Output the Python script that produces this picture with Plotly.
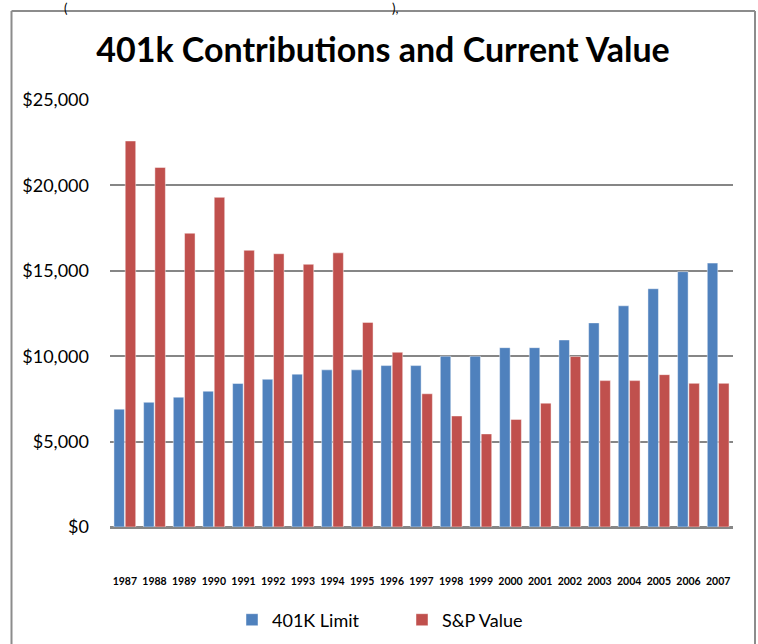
import plotly.graph_objects as go

years = [str(y) for y in range(1987, 2008)]
limit_401k = [6900, 7300, 7600, 7950, 8400, 8650, 8950, 9200, 9200, 9450, 9450,
              10000, 10000, 10500, 10500, 10950, 11950, 12950, 13950, 14950, 15450]
sp_value = [22600, 21050, 17200, 19300, 16200, 16000, 15380, 16050, 11980, 10230, 7800,
            6500, 5450, 6300, 7250, 9980, 8570, 8570, 8920, 8410, 8410]
y_ticks = [0, 5000, 10000, 15000, 20000, 25000]
y_tick_labels = ["$0", "$5,000", "$10,000", "$15,000", "$20,000", "$25,000"]

W, H = 758, 644
L, R, T, B = 110, 733, 100, 527
FONT = "Lato"

fig = go.Figure()
fig.add_trace(go.Bar(x=years, y=limit_401k, name="401K Limit",
                     marker=dict(color="#4F81BD", line=dict(color="rgba(255,255,255,0.45)", width=1))))
fig.add_trace(go.Bar(x=years, y=sp_value, name="S&P Value",
                     marker=dict(color="#C0504D", line=dict(color="rgba(255,255,255,0.45)", width=1))))

def px_x(p):
    return (p - L) / (R - L)

def px_y(p):
    return (B - p) / (B - T)

shapes = [
    dict(type="line", xref="paper", yref="paper", x0=px_x(11.5), x1=px_x(11.5), y0=px_y(11), y1=px_y(700),
         line=dict(color="#8C8C8C", width=2)),
    dict(type="line", xref="paper", yref="paper", x0=px_x(755), x1=px_x(755), y0=px_y(11), y1=px_y(700),
         line=dict(color="#8C8C8C", width=2)),
    dict(type="line", xref="paper", yref="paper", x0=px_x(11.5), x1=px_x(755), y0=px_y(11), y1=px_y(11),
         line=dict(color="#8C8C8C", width=2)),
]

annotations = [
    dict(text="(", xref="paper", yref="paper", x=px_x(66), y=px_y(8), xanchor="center", yanchor="middle",
         showarrow=False, font=dict(family=FONT, size=13, color="#000000")),
    dict(text="),", xref="paper", yref="paper", x=px_x(395), y=px_y(8), xanchor="center", yanchor="middle",
         showarrow=False, font=dict(family=FONT, size=13, color="#000000")),
]

fig.update_layout(
    width=W, height=H,
    margin=dict(l=L, r=W - R, t=T, b=H - B, pad=0),
    paper_bgcolor="white", plot_bgcolor="white",
    barmode="group", bargap=0.24, bargroupgap=0.07,
    title=dict(text="<b>401k Contributions and Current Value</b>", x=383 / W, xanchor="center",
               xref="container", y=1 - 50 / H, yanchor="middle", yref="container",
               font=dict(family=FONT, size=34, color="#000000")),
    font=dict(family=FONT, color="#000000"),
    showlegend=True,
    legend=dict(orientation="h", x=232 / W, xanchor="left", xref="container",
                y=1 - 620 / H, yanchor="middle", yref="container",
                font=dict(family=FONT, size=18, color="#000000"), itemwidth=30,
                entrywidth=125, entrywidthmode="pixels",
                traceorder="normal"),
    shapes=shapes,
    annotations=annotations,
)
fig.update_yaxes(range=[0, 25000], tickvals=y_ticks, ticktext=y_tick_labels,
                 showgrid=True, gridcolor="#868686", gridwidth=2,
                 zeroline=True, zerolinecolor="#868686", zerolinewidth=3,
                 showline=False, ticks="", ticklabelstandoff=20,
                 tickfont=dict(family=FONT, size=18, color="#000000"))
fig.update_xaxes(showgrid=False, showline=False, ticks="", tickangle=0,
                 ticklabelstandoff=46,
                 tickfont=dict(family=FONT, size=10.5, color="#000000", weight="bold"))

fig.write_html("out.html", config={"displayModeBar": False},
               post_script="document.body.style.margin='0';document.body.style.overflow='hidden';")
